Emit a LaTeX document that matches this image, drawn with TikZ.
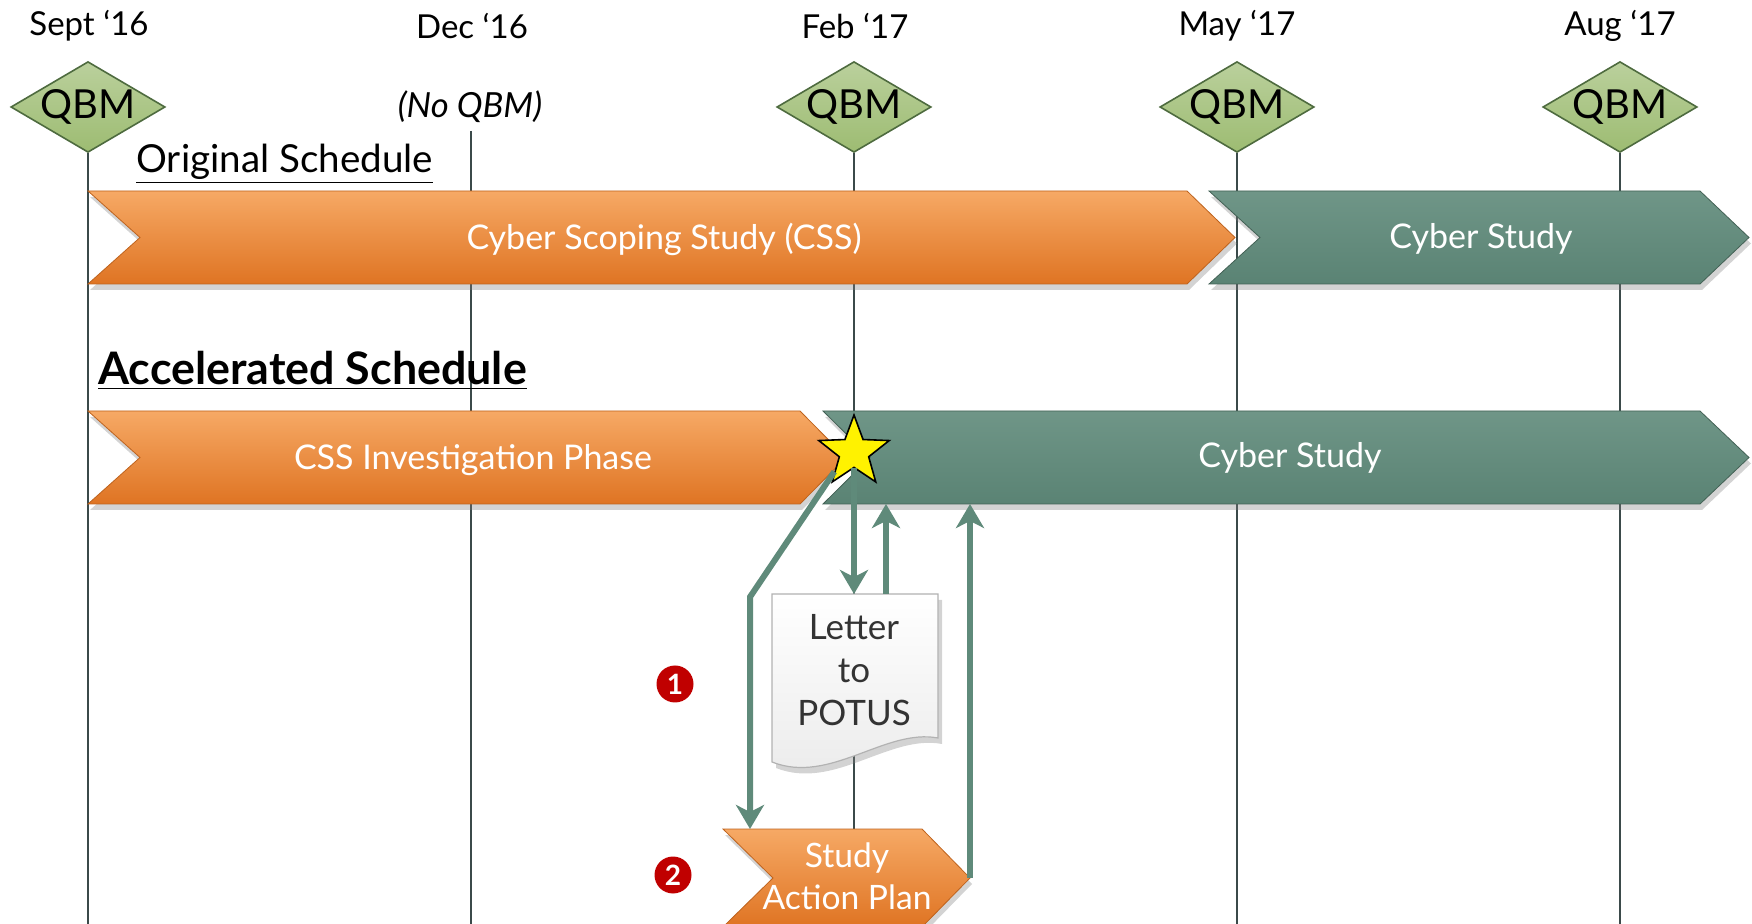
\documentclass[tikz,border=0pt]{standalone}
\usepackage{fontspec}
\setmainfont{Lato}
\usetikzlibrary{shapes.geometric,arrows.meta,shadows,calc,positioning}

\definecolor{baroranget}{HTML}{F6A965}
\definecolor{barorangeb}{HTML}{DF7423}
\definecolor{bargreen}{HTML}{5F8A7A}
\definecolor{qbmgreen}{HTML}{9DBC72}
\definecolor{qbmedge}{HTML}{4E6B3F}
\definecolor{tickgray}{HTML}{3B4A4A}
\definecolor{numred}{HTML}{C00000}

\begin{document}
\begin{tikzpicture}[
	%	style def
    x=0.5pt, y=-0.5pt,
    month/.style={font=\fontsize{16.5}{20}\selectfont},
    qbm/.style={diamond, draw=qbmedge, line width=0.8pt, top color=qbmgreen!70!white, bottom color=qbmgreen,
        minimum width=76pt, minimum height=44pt, aspect=1.7, inner sep=0pt, font=\fontsize{20}{20}\selectfont},
    tick line/.style={tickgray, line width=1pt},
    orange bar/.style={top color=baroranget, bottom color=barorangeb, draw=barorangeb!85!black, line width=0.4pt,
        drop shadow={shadow xshift=1pt, shadow yshift=-3pt, opacity=0.35}},
    green bar/.style={top color=bargreen!90!white, bottom color=bargreen!95!black, draw=bargreen!70!black, line width=0.4pt,
        drop shadow={shadow xshift=1pt, shadow yshift=-3pt, opacity=0.35}},
    bar text/.style={text=white, align=center, font=\fontsize{17}{21}\selectfont},
    heading/.style={anchor=base west, inner sep=0pt, font=\fontsize{19.3}{24}\selectfont},
    flow/.style={bargreen, line width=3pt, -{Stealth[length=12pt, width=14pt, inset=3.5pt]}},
    num/.style={circle, fill=numred, text=white, inner sep=0pt, minimum size=18.5pt, font=\bfseries\fontsize{14}{14}\selectfont}
    ]
	\useasboundingbox (0,0) rectangle (1752,924);
	\coordinate (base) at (0,924);

	% months and QBM markers
	\node[month] (m1) at (89,26) {Sept ‘16};
	\node[month] (m2) at (472,26) {Dec ‘16};
	\node[month] (m3) at (855,26) {Feb ‘17};
	\node[month] (m4) at (1237,26) {May ‘17};
	\node[month] (m5) at (1620,26) {Aug ‘17};

	\node[qbm] (q1) at (88,107) {\raisebox{-2pt}{QBM}};
	\node[qbm] (q3) at (854,107) {\raisebox{-2pt}{QBM}};
	\node[qbm] (q4) at (1237,107) {\raisebox{-2pt}{QBM}};
	\node[qbm] (q5) at (1620,107) {\raisebox{-2pt}{QBM}};
	\node[month, font=\itshape\fontsize{17.3}{20}\selectfont] (noq) at (470,107) {(No QBM)};

	% time lines
	\foreach \q in {q1,q3,q4,q5}
		\draw[tick line] (\q.south) -- (\q.south |- base);
	\draw[tick line] (471,131) -- (471,924);

	% original schedule
	\node[heading] (orig) at (136,173) {\underline{Original Schedule}};
	\draw[orange bar] (88,191) -- (1187,191) -- (1235,237.5) -- (1187,284) -- (88,284) -- (140,237.5) -- cycle;
	\draw[green bar] (1209,191) -- (1700,191) -- (1749,237.5) -- (1700,284) -- (1209,284) -- (1260,237.5) -- cycle;
	\node[bar text] (css) at (664,239) {Cyber Scoping Study (CSS)};
	\node[bar text] (cs1) at (1481,239) {Cyber Study};

	% accelerated schedule
	\node[heading, font=\bfseries\fontsize{22.4}{24}\selectfont] (accel) at (98,385) {\underline{Accelerated Schedule}};
	\draw[orange bar] (88,411) -- (800,411) -- (846,457.5) -- (800,504) -- (88,504) -- (140,457.5) -- cycle;
	\draw[green bar] (823,411) -- (1700,411) -- (1749,457.5) -- (1700,504) coordinate (cs2b) -- (823,504) -- (870,457.5) -- cycle;
	\node[bar text] (inv) at (473,460) {CSS Investigation Phase};
	\node[bar text] (cs2) at (1290,458) {Cyber Study};

	% letter and action plan
	\draw[top color=white, bottom color=black!8, draw=black!30, line width=0.6pt,
	      drop shadow={shadow xshift=2pt, shadow yshift=-3pt, opacity=0.35}]
		(772,594) coordinate (ltl) -- (938,594) -- (938,738) .. controls (885,728) and (830,785) .. (772,762) -- cycle;
	\node[align=center, text=black!80, font=\fontsize{17.5}{21.5}\selectfont] (letter) at (854,670) {Letter\\to\\POTUS};
	\coordinate (ltop) at (ltl -| letter);
	\coordinate (lright) at (886,594);

	\draw[orange bar] (723,829) coordinate (sapt) -- (922,829) -- (970,878) coordinate (sape) -- (922,927) -- (723,927) -- (773,878) -- cycle;
	\node[bar text, font=\fontsize{16.8}{21}\selectfont] (sap) at (847,876) {Study\\Action Plan};

	\node[num] (n1) at (675,684) {1};
	\node[num] (n2) at (673,875) {2};

	% star and flows
	\node[star, star points=5, star point ratio=2.4, minimum size=37pt, inner sep=0pt,
	      fill=yellow, draw=black, line width=0.8pt] (star) at (854,452) {};
	\draw[flow] (star.south) -- (ltop);
	\draw[flow] (lright) -- (lright |- cs2b);
	\draw[flow] (star.south west) -- (750,597) coordinate (bend) -- (bend |- sapt);
	\draw[flow] (sape) -- (sape |- cs2b);
\end{tikzpicture}
\end{document}
